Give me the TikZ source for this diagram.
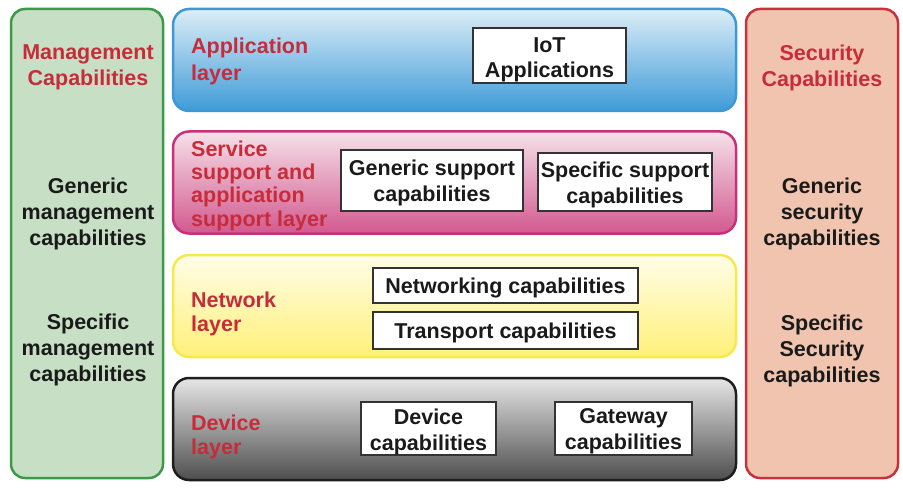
\documentclass[tikz,border=0pt]{standalone}
\usepackage{fontspec}
\setmainfont{Liberation Sans}
\definecolor{lblred}{HTML}{C62C3A}
\definecolor{txtblack}{HTML}{1A1A1A}
\definecolor{mgmtfill}{HTML}{C7E0C5}
\definecolor{mgmtdraw}{HTML}{3A9A48}
\definecolor{secfill}{HTML}{F0C4AE}
\definecolor{secdraw}{HTML}{C8323A}
\definecolor{apptop}{HTML}{DDEEF7}
\definecolor{appbot}{HTML}{3E9BD8}
\definecolor{appdraw}{HTML}{3F98D6}
\definecolor{svctop}{HTML}{F6E1E9}
\definecolor{svcbot}{HTML}{D2598F}
\definecolor{svcdraw}{HTML}{C8307A}
\definecolor{nettop}{HTML}{FFFDE8}
\definecolor{netbot}{HTML}{FFF078}
\definecolor{netdraw}{HTML}{F6E94C}
\definecolor{devtop}{HTML}{E6E6E6}
\definecolor{devmid}{HTML}{B4B4B4}
\definecolor{devbot}{HTML}{4E4E4E}
\definecolor{devdraw}{HTML}{1E1E1E}
\definecolor{boxgray}{HTML}{333333}
\newcommand\myfs{\bfseries\fontsize{21.5}{26}\selectfont}
\begin{document}
\begin{tikzpicture}[x=1pt,y=-1pt,
  panel/.style={rounded corners=14pt, line width=2.5pt, inner sep=0pt,
    minimum width=152pt, minimum height=469pt},
  layer/.style={rounded corners=16pt, line width=2.5pt, inner sep=0pt,
    minimum width=563pt, minimum height=102pt},
  capbox/.style={draw=boxgray, fill=white, line width=1.2pt, inner sep=0pt},
  captxt/.style={align=center, font=\myfs, text=txtblack, inner sep=0pt},
  lbl/.style={text=lblred, font=\myfs, align=left, anchor=west, inner sep=0pt},
  ttl/.style={text=lblred, font=\myfs, align=center, inner sep=0pt},
  sidetxt/.style={text=txtblack, font=\myfs, align=center, inner sep=0pt}]
\useasboundingbox (0,0) rectangle (903,492);
% side panels
\node[panel, draw=mgmtdraw, fill=mgmtfill] (mgmt) at (87,243.5) {};
\node[panel, draw=secdraw, fill=secfill] (sec) at (822,243.5) {};
% layers
\node[layer, draw=appdraw, top color=apptop, bottom color=appbot] (app) at (454.5,60) {};
\node[layer, draw=svcdraw, top color=svctop, bottom color=svcbot] (svc) at (454.5,182.5) {};
\node[layer, draw=netdraw, top color=nettop, bottom color=netbot] (net) at (454.5,306) {};
\node[layer, draw=devdraw, top color=devtop, middle color=devmid, bottom color=devbot] (dev) at (454.5,429) {};
% side panel texts
\node[ttl] (mgmtT) at (88,67.5) {Management\\Capabilities};
\node[sidetxt] (mgmtG) at (88,214) {Generic\\management\\capabilities};
\node[sidetxt] (mgmtS) at (88,350) {Specific\\management\\capabilities};
\node[ttl] (secT) at (822,67.5) {Security\\Capabilities};
\node[sidetxt] (secG) at (822,214) {Generic\\security\\capabilities};
\node[sidetxt] (secS) at (822,350.5) {Specific\\Security\\capabilities};
% layer labels
\node[lbl, font=\bfseries\fontsize{21.5}{27}\selectfont] (appL) at (191,61) {Application\\layer};
\node[lbl, font=\bfseries\fontsize{21.5}{23.3}\selectfont] (svcL) at (191,185.5) {Service\\support and\\application\\support layer};
\node[lbl, font=\bfseries\fontsize{21.5}{24}\selectfont] (netL) at (191,313.5) {Network\\layer};
\node[lbl, font=\bfseries\fontsize{21.5}{24}\selectfont] (devL) at (191,436.5) {Device\\layer};
% capability boxes
\node[capbox, minimum width=153pt, minimum height=55pt] (iot) at (549.5,55.5) {};
\node[capbox, minimum width=182pt, minimum height=61pt] (gsc) at (432,180.5) {};
\node[capbox, minimum width=174pt, minimum height=58pt] (ssc) at (625,182) {};
\node[capbox, minimum width=265pt, minimum height=35pt] (ntw) at (505.5,285.5) {};
\node[capbox, minimum width=265pt, minimum height=37pt] (trn) at (505.5,330.5) {};
\node[capbox, minimum width=135pt, minimum height=53pt] (dvc) at (428.5,428.5) {};
\node[capbox, minimum width=137pt, minimum height=53pt] (gwc) at (623.5,428.5) {};
% capability texts
\node[captxt, font=\bfseries\fontsize{21.5}{25}\selectfont] (iotT) at ([yshift=-4pt]iot.center) {IoT\\Applications};
\node[captxt] (gscT) at ([yshift=-2.5pt]gsc.center) {Generic support\\capabilities};
\node[captxt] (sscT) at ([yshift=-2.5pt]ssc.center) {Specific support\\capabilities};
\node[captxt] (ntwT) at ([yshift=-2pt]ntw.center) {Networking capabilities};
\node[captxt] (trnT) at ([yshift=-2pt]trn.center) {Transport capabilities};
\node[captxt] (dvcT) at ([yshift=-3pt]dvc.center) {Device\\capabilities};
\node[captxt] (gwcT) at ([yshift=-3pt]gwc.center) {Gateway\\capabilities};
\end{tikzpicture}
\end{document}
